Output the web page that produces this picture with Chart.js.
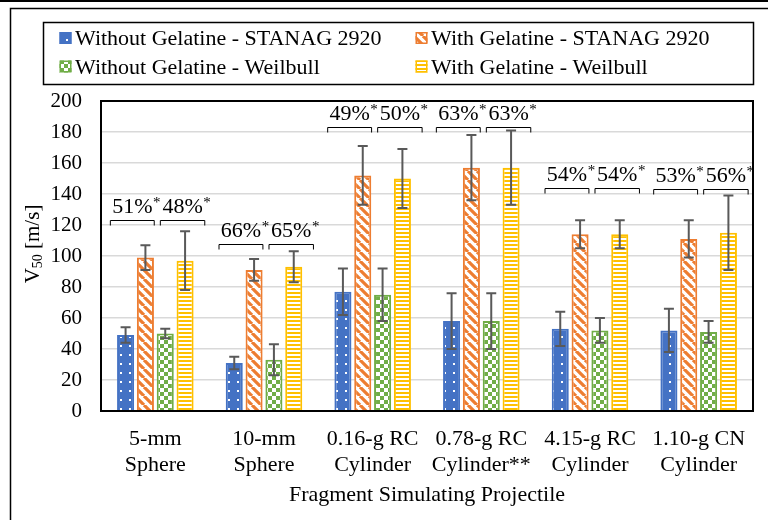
<!DOCTYPE html>
<html>
<head>
<meta charset="utf-8">
<script src="https://cdn.jsdelivr.net/npm/chart.js@4"></script>
<style>
  html, body { margin: 0; padding: 0; background: #fff; }
  canvas { display: block; }
</style>
</head>
<body>
<canvas id="chart" width="768" height="520"></canvas>
<script>
// ---- data ----
const categories = [
  ['5-mm', 'Sphere'],
  ['10-mm', 'Sphere'],
  ['0.16-g RC', 'Cylinder'],
  ['0.78-g RC', 'Cylinder**'],
  ['4.15-g RC', 'Cylinder'],
  ['1.10-g CN', 'Cylinder']
];
const seriesNames = [
  'Without Gelatine - STANAG 2920',
  'With Gelatine - STANAG 2920',
  'Without Gelatine - Weilbull',
  'With Gelatine - Weilbull'
];
const noGelStanag    = [49, 31, 77, 58, 53, 52];
const noGelStanagErr = [5, 4, 15, 18, 11, 14];
const gelStanag      = [99, 91, 152, 157, 114, 111];
const gelStanagErr   = [8, 7, 19, 21, 9, 12];
const noGelWeib      = [50, 33, 75, 58, 52, 51];
const noGelWeibErr   = [3, 10, 17, 18, 8, 7];
const gelWeib        = [97, 93, 150, 157, 114, 115];
const gelWeibErr     = [19, 10, 19, 24, 9, 24];
// percentage increase with gelatine: [STANAG, Weibull] per projectile
const increaseStanag  = ['51%', '66%', '49%', '63%', '54%', '53%'];
const increaseWeibull = ['48%', '65%', '50%', '63%', '54%', '56%'];
// height (m/s) of the comparison brackets
const bracketLevel = [123, 108, 183, 183, 144, 143];
const yTicksMin = 0, yTicksMax = 200, yTickStep = 20;

// ---- styling ----
const FONT = "'Liberation Serif', 'Times New Roman', serif";
const BLUE = '#4472C4', ORANGE = '#ED7D31', GREEN = '#70AD47', YELLOW = '#FFC000';

function tile(w, h, paint) {
  const c = document.createElement('canvas');
  c.width = w; c.height = h;
  const g = c.getContext('2d');
  paint(g, w, h);
  return document.getElementById('chart').getContext('2d').createPattern(c, 'repeat');
}
const dotted = tile(9, 9, (g, w, h) => {
  g.fillStyle = BLUE; g.fillRect(0, 0, w, h);
  g.fillStyle = '#fff'; g.fillRect(3, 3, 2, 2);
});
const diagonal = tile(9, 9, (g, s) => {
  g.fillStyle = '#fff'; g.fillRect(0, 0, s, s);
  g.strokeStyle = ORANGE; g.lineWidth = 3.2;
  g.beginPath();
  for (let k = -1; k <= 1; k++) { g.moveTo(k * s, 0); g.lineTo(k * s + s, s); }
  g.stroke();
});
const checker = tile(8, 8, (g) => {
  g.fillStyle = '#fff'; g.fillRect(0, 0, 8, 8);
  g.fillStyle = GREEN; g.fillRect(0, 0, 4, 4); g.fillRect(4, 4, 4, 4);
});
const hstripes = tile(4, 4, (g) => {
  g.fillStyle = '#fff'; g.fillRect(0, 0, 4, 4);
  g.fillStyle = YELLOW; g.fillRect(0, 0, 4, 2);
});

const seriesValues = [noGelStanag, gelStanag, noGelWeib, gelWeib];
const seriesErrors = [noGelStanagErr, gelStanagErr, noGelWeibErr, gelWeibErr];
const fills = [dotted, diagonal, checker, hstripes];
const strokes = [BLUE, ORANGE, GREEN, YELLOW];

// ---- plugins ----
const pageFrame = {
  id: 'pageFrame',
  beforeDraw(chart) {
    const ctx = chart.ctx;
    ctx.save();
    ctx.fillStyle = '#fff';
    ctx.fillRect(0, 0, chart.width, chart.height);
    ctx.strokeStyle = '#000';
    ctx.lineWidth = 2;
    ctx.beginPath(); ctx.moveTo(0, 1); ctx.lineTo(chart.width, 1); ctx.stroke();
    ctx.lineWidth = 1.5;
    ctx.strokeRect(10.5, 8.5, chart.width + 20, chart.height + 20);
    ctx.restore();
  }
};

const errorBars = {
  id: 'errorBars',
  afterDatasetsDraw(chart) {
    const ctx = chart.ctx, y = chart.scales.y;
    ctx.save();
    ctx.strokeStyle = '#595959';
    ctx.lineWidth = 2;
    chart.data.datasets.forEach((ds, i) => {
      chart.getDatasetMeta(i).data.forEach((bar, j) => {
        const v = ds.data[j], e = seriesErrors[i][j];
        const top = y.getPixelForValue(v + e), bot = y.getPixelForValue(v - e);
        ctx.beginPath();
        ctx.moveTo(bar.x, top); ctx.lineTo(bar.x, bot);
        ctx.moveTo(bar.x - 5, top); ctx.lineTo(bar.x + 5, top);
        ctx.moveTo(bar.x - 5, bot); ctx.lineTo(bar.x + 5, bot);
        ctx.stroke();
      });
    });
    ctx.restore();
  }
};

const plotFrame = {
  id: 'plotFrame',
  afterDatasetsDraw(chart) {
    const a = chart.chartArea, ctx = chart.ctx;
    ctx.save();
    ctx.strokeStyle = '#000';
    ctx.lineWidth = 2;
    ctx.strokeRect(a.left, a.top, a.right - a.left, a.bottom - a.top);
    ctx.restore();
  }
};

const brackets = {
  id: 'brackets',
  afterDatasetsDraw(chart) {
    const ctx = chart.ctx, x = chart.scales.x, y = chart.scales.y;
    const cw = (x.right - x.left) / categories.length;
    ctx.save();
    ctx.strokeStyle = '#000';
    ctx.lineWidth = 1;
    categories.forEach((c, i) => {
      const cx = x.getPixelForValue(i);
      const by = Math.round(y.getPixelForValue(bracketLevel[i])) + 0.5;
      const spans = [[cx - 0.414 * cw, cx - 0.01 * cw], [cx + 0.046 * cw, cx + 0.455 * cw]];
      const texts = [increaseStanag[i], increaseWeibull[i]];
      spans.forEach(([l, r], k) => {
        ctx.beginPath();
        ctx.moveTo(l, by + 5); ctx.lineTo(l, by); ctx.lineTo(r, by); ctx.lineTo(r, by + 5);
        ctx.stroke();
        const mid = (l + r) / 2, base = by - 8;
        ctx.fillStyle = '#000';
        ctx.textBaseline = 'alphabetic';
        ctx.textAlign = 'center';
        ctx.font = '22px ' + FONT;
        const w = ctx.measureText(texts[k]).width;
        ctx.fillText(texts[k], mid, base);
        ctx.textAlign = 'left';
        ctx.font = '15px ' + FONT;
        ctx.fillText('*', mid + w / 2 + 0.5, base - 6);
      });
    });
    ctx.restore();
  }
};

const yTitle = {
  id: 'yTitle',
  afterDraw(chart) {
    const ctx = chart.ctx;
    ctx.save();
    ctx.translate(32, 244);
    ctx.rotate(-Math.PI / 2);
    ctx.fillStyle = '#000';
    ctx.textBaseline = 'alphabetic';
    ctx.textAlign = 'left';
    const big = '21px ' + FONT, small = '14px ' + FONT;
    ctx.font = big; const wV = ctx.measureText('V').width; const wR = ctx.measureText(' [m/s]').width;
    ctx.font = small; const wS = ctx.measureText('50').width;
    let px = -(wV + wS + wR) / 2;
    ctx.font = big; ctx.fillText('V', px, 7); px += wV;
    ctx.font = small; ctx.fillText('50', px, 10); px += wS;
    ctx.font = big; ctx.fillText(' [m/s]', px, 7);
    ctx.restore();
  }
};

const legendBox = {
  id: 'legendBox',
  afterDraw(chart) {
    const ctx = chart.ctx;
    ctx.save();
    ctx.strokeStyle = '#000';
    ctx.lineWidth = 1.5;
    ctx.strokeRect(43.5, 22.5, 710, 62);
    const cols = [59.5, 415.5], rows = [45, 73.5];
    [0, 1, 2, 3].forEach((s, n) => {
      const sx = cols[n % 2], base = rows[Math.floor(n / 2)];
      const sy = base - 13;
      ctx.fillStyle = fills[s];
      ctx.fillRect(sx, sy, 12, 12);
      ctx.strokeStyle = strokes[s];
      ctx.lineWidth = 1.5;
      ctx.strokeRect(sx + 0.75, sy + 0.75, 10.5, 10.5);
      ctx.fillStyle = '#000';
      ctx.font = '22px ' + FONT;
      ctx.textBaseline = 'alphabetic';
      ctx.textAlign = 'left';
      ctx.fillText(seriesNames[s], sx + 15.5, base);
    });
    ctx.restore();
  }
};

// ---- chart ----
new Chart(document.getElementById('chart'), {
  type: 'bar',
  data: {
    labels: categories,
    datasets: seriesValues.map((vals, i) => ({
      label: seriesNames[i],
      data: vals,
      backgroundColor: fills[i],
      borderColor: strokes[i],
      borderWidth: 2,
      categoryPercentage: 0.73,
      barPercentage: 0.86
    }))
  },
  options: {
    responsive: false,
    animation: false,
    layout: { padding: { top: 101, right: 15, left: 0, bottom: 0 } },
    plugins: { legend: { display: false }, tooltip: { enabled: false } },
    scales: {
      x: {
        grid: { display: false, drawTicks: false },
        border: { display: false },
        ticks: { color: '#000', font: { family: FONT, size: 22 }, padding: 15, maxRotation: 0, autoSkip: false },
        title: { display: true, text: 'Fragment Simulating Projectile', color: '#000',
                 font: { family: FONT, size: 22 }, padding: { top: 0, bottom: 12 } },
        afterFit(s) { s.height = 109; }
      },
      y: {
        min: yTicksMin, max: yTicksMax,
        ticks: { stepSize: yTickStep, color: '#000', font: { family: FONT, size: 21 }, padding: 19 },
        grid: { color: '#d9d9d9', lineWidth: 1.5, drawTicks: false },
        border: { display: false },
        afterFit(s) { s.width = 101; }
      }
    }
  },
  plugins: [pageFrame, errorBars, plotFrame, brackets, yTitle, legendBox]
});
</script>
</body>
</html>
